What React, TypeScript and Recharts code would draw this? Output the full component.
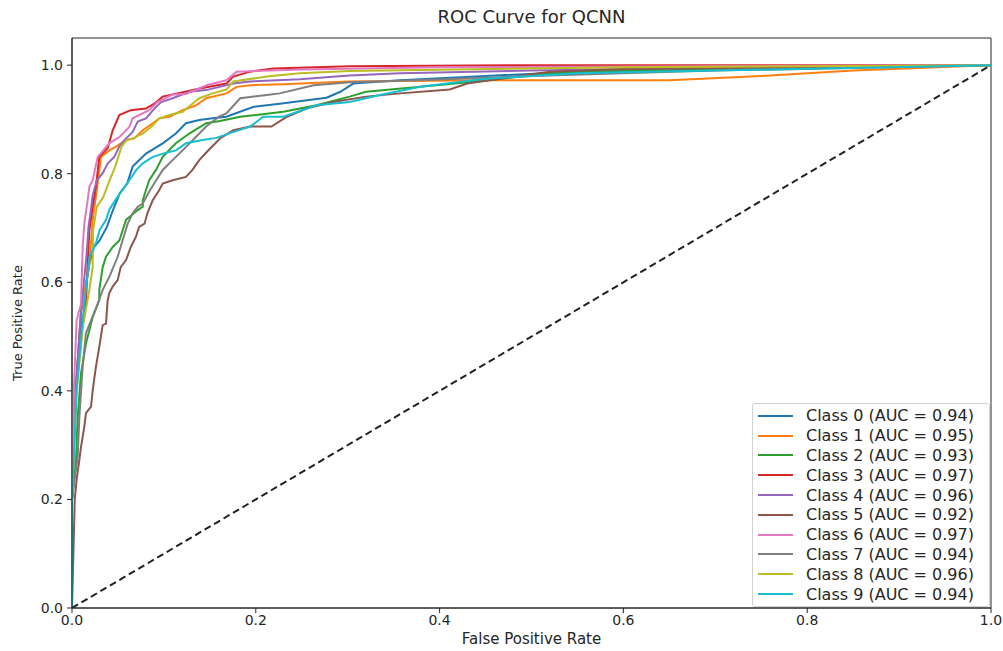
import React from 'react';
import { LineChart, Line, XAxis, YAxis, ReferenceArea, Legend } from 'recharts';

// ROC points per class, [fpr, tpr]
const class0: [number, number][] = [
  [0, 0], [0, 0.2], [0.004, 0.4], [0.01, 0.55], [0.015, 0.59], [0.019, 0.635], [0.024, 0.665],
  [0.03, 0.677], [0.038, 0.702], [0.045, 0.735], [0.052, 0.764], [0.06, 0.782], [0.066, 0.813],
  [0.0805, 0.837], [0.0987, 0.856], [0.113, 0.874], [0.124, 0.893], [0.1385, 0.899], [0.153, 0.902],
  [0.168, 0.905], [0.197, 0.923], [0.226, 0.929], [0.277, 0.94], [0.292, 0.951], [0.306, 0.966],
  [0.357, 0.972], [0.45, 0.98], [0.55, 0.988], [0.7, 0.993], [1, 1],
];
const class1: [number, number][] = [
  [0, 0], [0, 0.2], [0.004, 0.4], [0.01, 0.55], [0.019, 0.635], [0.0225, 0.715], [0.028, 0.782],
  [0.0316, 0.831], [0.0406, 0.843], [0.048, 0.85], [0.0588, 0.862], [0.0678, 0.865], [0.077, 0.88],
  [0.0878, 0.893], [0.095, 0.902], [0.106, 0.905], [0.1204, 0.917], [0.135, 0.926], [0.146, 0.939],
  [0.168, 0.948], [0.179, 0.96], [0.194, 0.963], [0.23, 0.965], [0.3, 0.97], [0.45, 0.972],
  [0.65, 0.972], [0.75, 0.98], [0.85, 0.99], [1, 1],
];
const class2: [number, number][] = [
  [0, 0], [0, 0.2], [0.0044, 0.273], [0.0062, 0.352], [0.0098, 0.432], [0.0152, 0.487], [0.0225, 0.536],
  [0.0297, 0.567], [0.0297, 0.586], [0.0334, 0.628], [0.037, 0.647], [0.0443, 0.665], [0.0515, 0.677],
  [0.0588, 0.715], [0.0715, 0.733], [0.077, 0.739], [0.077, 0.751], [0.0805, 0.77], [0.084, 0.788],
  [0.0914, 0.807], [0.0987, 0.831], [0.113, 0.856], [0.1276, 0.874], [0.146, 0.893], [0.161, 0.897],
  [0.183, 0.905], [0.23, 0.914], [0.266, 0.926], [0.302, 0.942], [0.32, 0.951], [0.379, 0.96],
  [0.44, 0.97], [0.52, 0.985], [0.6, 0.99], [1, 1],
];
const class3: [number, number][] = [
  [0, 0], [0, 0.2], [0.004, 0.4], [0.01, 0.52], [0.0152, 0.56], [0.017, 0.635], [0.0189, 0.696],
  [0.0225, 0.739], [0.026, 0.776], [0.0297, 0.831], [0.0388, 0.847], [0.0443, 0.88], [0.0515, 0.908],
  [0.064, 0.917], [0.0805, 0.92], [0.0896, 0.929], [0.0987, 0.942], [0.139, 0.957], [0.168, 0.966],
  [0.1755, 0.979], [0.194, 0.988], [0.219, 0.994], [0.302, 0.998], [0.5, 1], [1, 1],
];
const class4: [number, number][] = [
  [0, 0], [0, 0.2], [0.004, 0.4], [0.01, 0.55], [0.016, 0.653], [0.018, 0.702], [0.021, 0.739],
  [0.0225, 0.76], [0.027, 0.788], [0.033, 0.8], [0.039, 0.819], [0.046, 0.831], [0.0515, 0.85],
  [0.057, 0.862], [0.066, 0.877], [0.0715, 0.896], [0.0805, 0.902], [0.0896, 0.92], [0.097, 0.932],
  [0.1095, 0.939], [0.1276, 0.951], [0.146, 0.954], [0.1755, 0.966], [0.194, 0.97], [0.248, 0.974],
  [0.302, 0.981], [0.357, 0.985], [0.5, 0.99], [0.7, 0.995], [1, 1],
];
const class5: [number, number][] = [
  [0, 0], [0.003, 0.2], [0.005, 0.236], [0.008, 0.273], [0.0098, 0.297], [0.0134, 0.334], [0.0152, 0.359],
  [0.0207, 0.371], [0.0225, 0.401], [0.026, 0.444], [0.0297, 0.481], [0.0334, 0.521], [0.037, 0.524],
  [0.0388, 0.567], [0.0406, 0.58], [0.0443, 0.592], [0.0497, 0.604], [0.053, 0.628], [0.0588, 0.641],
  [0.064, 0.665], [0.0696, 0.684], [0.073, 0.702], [0.079, 0.708], [0.082, 0.727], [0.0878, 0.751],
  [0.095, 0.77], [0.0987, 0.782], [0.1095, 0.788], [0.124, 0.794], [0.131, 0.807], [0.1385, 0.825],
  [0.1466, 0.84], [0.161, 0.865], [0.1755, 0.88], [0.194, 0.887], [0.217, 0.887], [0.234, 0.905],
  [0.255, 0.92], [0.284, 0.932], [0.32, 0.942], [0.357, 0.948], [0.411, 0.955], [0.43, 0.966],
  [0.466, 0.975], [0.52, 0.988], [0.6, 0.993], [1, 1],
];
const class6: [number, number][] = [
  [0, 0], [0, 0.2], [0.002, 0.4], [0.005, 0.53], [0.0098, 0.56], [0.0116, 0.665], [0.0134, 0.708],
  [0.017, 0.751], [0.0189, 0.776], [0.0225, 0.788], [0.028, 0.831], [0.0406, 0.856], [0.052, 0.868],
  [0.0624, 0.886], [0.066, 0.902], [0.084, 0.917], [0.093, 0.932], [0.11, 0.946], [0.124, 0.947],
  [0.1466, 0.963], [0.168, 0.972], [0.179, 0.988], [0.25, 0.992], [0.4, 0.996], [1, 1],
];
const class7: [number, number][] = [
  [0, 0], [0, 0.2], [0.0062, 0.279], [0.008, 0.352], [0.0116, 0.444], [0.0152, 0.506], [0.0207, 0.53],
  [0.028, 0.56], [0.0334, 0.586], [0.0406, 0.61], [0.0497, 0.647], [0.055, 0.677], [0.0606, 0.708],
  [0.066, 0.727], [0.0715, 0.739], [0.077, 0.745], [0.085, 0.77], [0.0987, 0.807], [0.1095, 0.825],
  [0.1204, 0.843], [0.135, 0.868], [0.146, 0.887], [0.16, 0.905], [0.168, 0.911], [0.183, 0.939],
  [0.212, 0.945], [0.226, 0.948], [0.263, 0.963], [0.306, 0.969], [0.379, 0.972], [0.5, 0.98],
  [0.7, 0.99], [1, 1],
];
const class8: [number, number][] = [
  [0, 0], [0, 0.2], [0.005, 0.4], [0.012, 0.52], [0.0189, 0.586], [0.0225, 0.628], [0.023, 0.696],
  [0.027, 0.739], [0.034, 0.757], [0.041, 0.788], [0.047, 0.813], [0.054, 0.85], [0.0595, 0.862],
  [0.066, 0.865], [0.077, 0.874], [0.0878, 0.889], [0.095, 0.902], [0.106, 0.908], [0.1204, 0.914],
  [0.131, 0.929], [0.1385, 0.939], [0.153, 0.948], [0.168, 0.955], [0.1755, 0.97], [0.212, 0.979],
  [0.248, 0.985], [0.302, 0.989], [0.379, 0.991], [0.6, 0.996], [1, 1],
];
const class9: [number, number][] = [
  [0, 0], [0, 0.2], [0.005, 0.4], [0.01, 0.5], [0.013, 0.555], [0.019, 0.647], [0.026, 0.672],
  [0.03, 0.696], [0.037, 0.715], [0.041, 0.735], [0.0486, 0.755], [0.06, 0.782], [0.07, 0.807],
  [0.077, 0.819], [0.088, 0.831], [0.099, 0.837], [0.113, 0.843], [0.124, 0.856], [0.142, 0.862],
  [0.157, 0.866], [0.176, 0.877], [0.194, 0.887], [0.208, 0.905], [0.23, 0.905], [0.266, 0.926],
  [0.302, 0.932], [0.335, 0.945], [0.379, 0.96], [0.45, 0.975], [0.55, 0.985], [0.7, 0.99], [1, 1],
];

const curves = [class0, class1, class2, class3, class4, class5, class6, class7, class8, class9];
const aucs = [0.94, 0.95, 0.93, 0.97, 0.96, 0.92, 0.97, 0.94, 0.96, 0.94];
const COLORS = ['#1f77b4', '#ff7f0e', '#2ca02c', '#d62728', '#9467bd', '#8c564b', '#e377c2', '#7f7f7f', '#bcbd22', '#17becf'];
const diagonal: [number, number][] = [[0, 0], [1, 1]];
const ticks = [0, 0.2, 0.4, 0.6, 0.8, 1.0];

const toRows = (pts: [number, number][]) => pts.map(([fpr, tpr]) => ({ fpr, tpr }));

const FONT = '"DejaVu Sans", sans-serif';
const INK = '#262626';

const renderLegend = () => (
  <div
    style={{
      border: '1px solid #d0d0d0',
      borderRadius: 3,
      background: 'rgba(255,255,255,0.85)',
      padding: '2px 0',
      fontFamily: FONT,
      fontSize: 16,
      color: INK,
    }}
  >
    {curves.map((_, i) => (
      <div key={i} style={{ display: 'flex', alignItems: 'center', height: 19.8 }}>
        <span style={{ display: 'inline-block', width: 35, height: 2, marginLeft: 5, marginRight: 13, background: COLORS[i] }} />
        <span style={{ whiteSpace: 'nowrap' }}>{`Class ${i} (AUC = ${aucs[i].toFixed(2)})`}</span>
      </div>
    ))}
  </div>
);

export default function App() {
  return (
    <div style={{ position: 'absolute', left: 0, top: 0, width: 1003, height: 651, background: '#fff' }}>
      <div
        style={{
          position: 'absolute', left: 72, width: 919, top: 6, textAlign: 'center',
          fontFamily: FONT, fontSize: 18, color: INK,
        }}
      >
        ROC Curve for QCNN
      </div>
      <LineChart width={1003} height={651} margin={{ top: 38, right: 12, bottom: 0, left: 0 }}>
        <XAxis
          type="number"
          dataKey="fpr"
          domain={[0, 1]}
          ticks={ticks}
          tickFormatter={(v: number) => v.toFixed(1)}
          height={43}
          tickSize={5}
          tickMargin={2}
          stroke={INK}
          tick={{ fill: INK, fontSize: 14, fontFamily: FONT }}
          allowDataOverflow
          label={{ value: 'False Positive Rate', position: 'insideBottom', offset: 7, fill: INK, fontSize: 15, fontFamily: FONT }}
        />
        <YAxis
          type="number"
          dataKey="tpr"
          domain={[0, 1.05]}
          ticks={ticks}
          tickFormatter={(v: number) => v.toFixed(1)}
          width={72}
          tickSize={5}
          tickMargin={4}
          stroke={INK}
          tick={{ fill: INK, fontSize: 14, fontFamily: FONT }}
          allowDataOverflow
          label={{
            value: 'True Positive Rate', angle: -90, position: 'insideLeft', offset: 17,
            fill: INK, fontSize: 13, fontFamily: FONT, style: { textAnchor: 'middle' },
          }}
        />
        <ReferenceArea x1={0} x2={1} y1={0} y2={1.05} fill="none" stroke={INK} strokeWidth={1} />
        {curves.map((pts, i) => (
          <Line
            key={i}
            data={toRows(pts)}
            dataKey="tpr"
            name={`Class ${i}`}
            type="linear"
            stroke={COLORS[i]}
            strokeWidth={2}
            dot={false}
            activeDot={false}
            isAnimationActive={false}
          />
        ))}
        <Line
          data={toRows(diagonal)}
          dataKey="tpr"
          type="linear"
          stroke="#222"
          strokeWidth={2}
          strokeDasharray="7 4"
          dot={false}
          activeDot={false}
          legendType="none"
          isAnimationActive={false}
        />
        <Legend
          layout="vertical"
          align="center"
          verticalAlign="middle"
          content={renderLegend}
          wrapperStyle={{ left: 752, top: 403, width: 238 }}
        />
      </LineChart>
    </div>
  );
}
